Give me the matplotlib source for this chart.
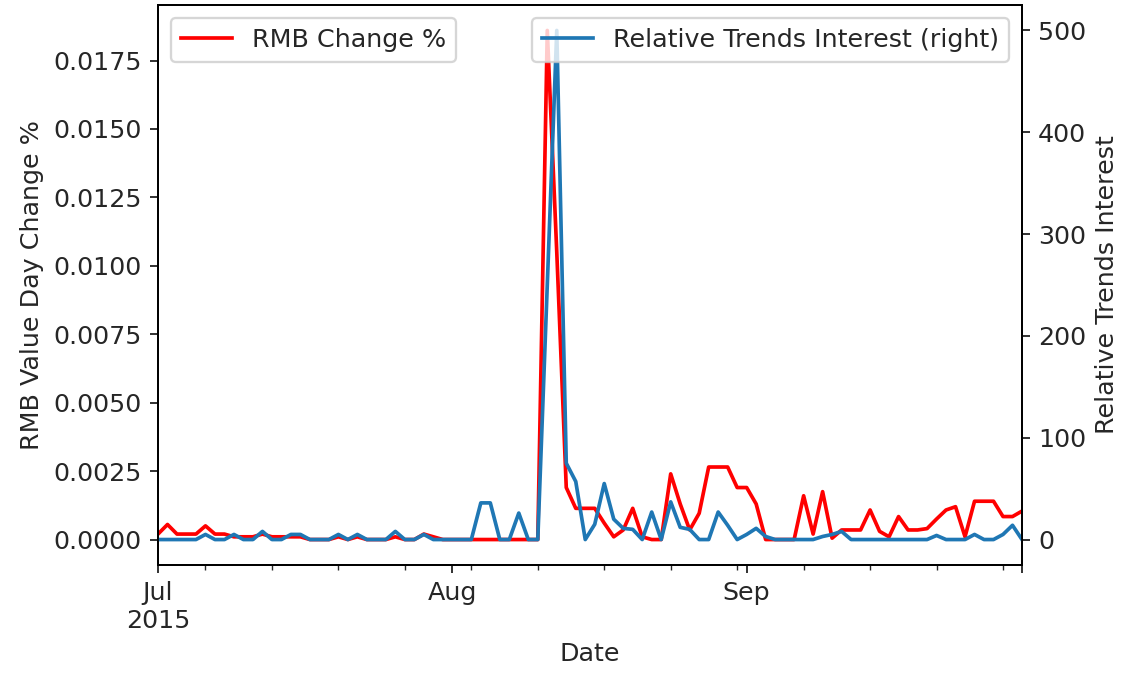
import numpy as np
import pandas as pd
import matplotlib
matplotlib.use('Agg')
import matplotlib.pyplot as plt

# daily values, Jul 1 2015 - Sep 30 2015
dates = pd.date_range('2015-07-01', '2015-09-30', freq='D')

rmb_change = [0.0002, 0.00055, 0.0002, 0.0002, 0.0002, 0.0005, 0.0002, 0.0002, 0.0001, 0.0001,
              0.0001, 0.0002, 0.0001, 0.0001, 0.0001, 0.0001, 0.0, 0.0, 0.0, 0.0001,
              0.0, 0.0001, 0.0, 0.0, 0.0, 0.0001, 0.0, 0.0, 0.0002, 0.0001,
              0.0, 0.0, 0.0, 0.0, 0.0, 0.0, 0.0, 0.0, 0.0, 0.0,
              0.0, 0.0186, 0.0105, 0.0019, 0.00114, 0.00114, 0.00114, 0.0006, 0.0001, 0.00035,
              0.00114, 0.0001, 0.0, 0.0, 0.0024, 0.0013, 0.00035, 0.00096, 0.00265, 0.00265,
              0.00265, 0.0019, 0.0019, 0.0013, 0.0, 0.0, 0.0, 0.0, 0.0016, 0.0002,
              0.00175, 0.00005, 0.00035, 0.00035, 0.00035, 0.00108, 0.0003, 0.0001, 0.00084, 0.00035,
              0.00035, 0.0004, 0.00075, 0.00108, 0.0012, 0.0001, 0.0014, 0.0014, 0.0014, 0.00084,
              0.00084, 0.00104]

trends = [0, 0, 0, 0, 0, 5, 0, 0, 5, 0,
          0, 8, 0, 0, 5, 5, 0, 0, 0, 5,
          0, 5, 0, 0, 0, 8, 0, 0, 5, 0,
          0, 0, 0, 0, 36, 36, 0, 0, 26, 0,
          0, 250, 500, 75, 57, 0, 15, 55, 20, 11,
          10, 0, 27, 0, 37, 12, 10, 0, 0, 27,
          14, 0, 5, 11, 3, 0, 0, 0, 0, 0,
          3, 5, 8, 0, 0, 0, 0, 0, 0, 0,
          0, 0, 4, 0, 0, 0, 5, 0, 0, 5,
          14, 0]

df = pd.DataFrame({'RMB Change %': rmb_change, 'Relative Trends Interest': trends}, index=dates)
df.index.name = 'Date'

plt.rcParams['font.size'] = 11
plt.rcParams['text.color'] = '#262626'
plt.rcParams['axes.labelcolor'] = '#262626'
plt.rcParams['xtick.color'] = '#262626'
plt.rcParams['ytick.color'] = '#262626'
fig = plt.figure(figsize=(1124/166, 675/166), dpi=166)
ax = fig.add_axes([158/1124, 1-565/675, (1022-158)/1124, 560/675])
df['RMB Change %'].plot(ax=ax, color='red', lw=1.6, legend=False)
ax2 = df['Relative Trends Interest'].plot(ax=ax, secondary_y=True, color='#1f77b4', lw=1.6, legend=False)

ax.set_ylabel('RMB Value Day Change %')
ax2.set_ylabel('Relative Trends Interest')
ax.set_xlabel('Date')

ax.legend(['RMB Change %'], loc='upper left')
ax2.legend(['Relative Trends Interest (right)'], loc='upper right')

fig.savefig('out.png', dpi=166)
